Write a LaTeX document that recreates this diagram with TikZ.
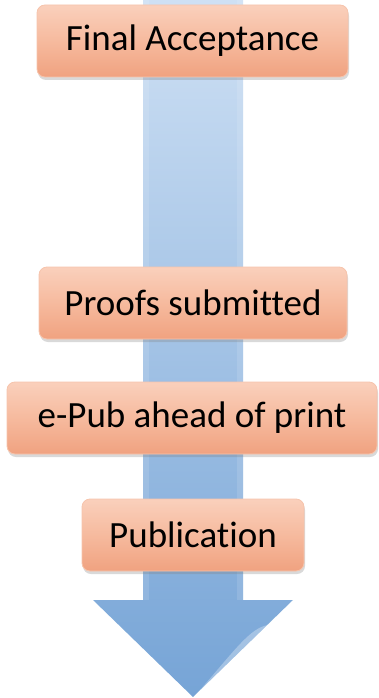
\documentclass[tikz,border=0pt]{standalone}
\usepackage{fontspec}
\setmainfont[Ligatures=NoCommon]{Carlito}
\usetikzlibrary{shadows}
\begin{document}
\begin{tikzpicture}[x=1pt,y=-1pt,
  stagebox/.style={rounded corners=8pt, draw=salmonEdge, line width=0.8pt,
    top color=salmonTop, bottom color=salmonBot, middle color=salmonMid,
    drop shadow={opacity=0.3, shadow xshift=1pt, shadow yshift=-3pt},
    font=\fontsize{37}{40}\selectfont, text=black, inner sep=0pt,
    minimum height=72pt, anchor=center}]
\definecolor{salmonTop}{RGB}{250,208,188}
\definecolor{salmonMid}{RGB}{246,186,158}
\definecolor{salmonBot}{RGB}{240,162,128}
\definecolor{salmonEdge}{RGB}{246,196,172}
\definecolor{arrowTop}{RGB}{206,224,244}
\definecolor{arrowMid}{RGB}{168,200,234}
\definecolor{arrowBot}{RGB}{118,164,214}
\useasboundingbox (0,0) rectangle (379,698);
% the downward flow arrow
\shade[top color=arrowTop, middle color=arrowMid, bottom color=arrowBot, shading angle=0]
  (143,0) -- (243,0) -- (243,600) -- (293,600) -- (193,697) -- (93,600) -- (143,600) -- cycle;
\fill[white, opacity=0.12] (143,0) rectangle (149,600);
\fill[white, opacity=0.12] (237,0) rectangle (243,600);
\fill[white, opacity=0.3] (293,600) -- (268,625) .. controls (250,628) and (235,650) .. (200,690) -- (193,697) -- cycle;
% stages
\node[stagebox, minimum width=311pt] (accept) at (192.5,41) {Final Acceptance};
\node[stagebox, minimum width=308pt] (proofs) at (193,303) {Proofs submitted};
\node[stagebox, minimum width=370pt] (epub) at (192,418) {e-Pub ahead of print};
\node[stagebox, minimum width=222pt] (pub) at (193,535) {Publication};
\end{tikzpicture}
\end{document}
